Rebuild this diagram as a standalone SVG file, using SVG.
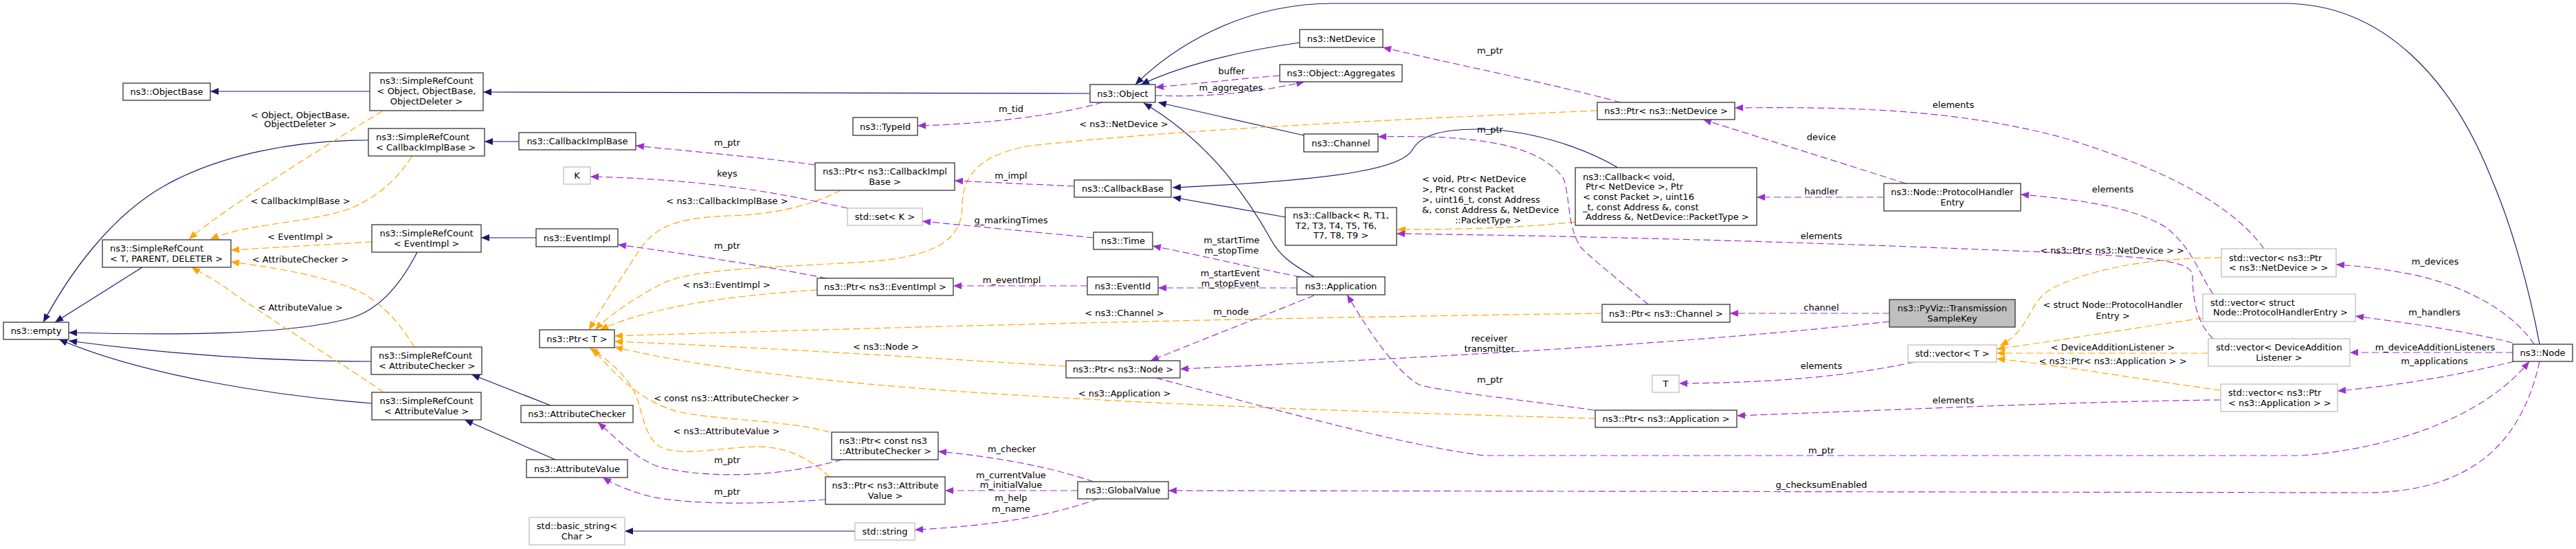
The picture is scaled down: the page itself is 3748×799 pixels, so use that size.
<svg xmlns="http://www.w3.org/2000/svg" width="3748" height="799" viewBox="0 0 3748 799">
<style>
text{font-family:"DejaVu Sans","Liberation Sans",sans-serif;font-size:13px;fill:#000}
.c{text-anchor:middle}
.n{fill:#fff;stroke:#333;stroke-width:1.3}
.g{fill:#fff;stroke:#bfbfbf;stroke-width:1.3}
.r{fill:#bfbfbf;stroke:#333;stroke-width:1.3}
.i{fill:none;stroke:#191970;stroke-width:1.2;marker-end:url(#ai)}
.u{fill:none;stroke:#9a32cd;stroke-width:1.2;stroke-dasharray:10,5;marker-end:url(#au)}
.t{fill:none;stroke:#ffa500;stroke-width:1.2;stroke-dasharray:10,5;marker-end:url(#at)}
</style>
<defs>
<marker id="ai" viewBox="0 0 12 10" refX="12" refY="5" markerWidth="13" markerHeight="10" markerUnits="userSpaceOnUse" orient="auto"><path d="M0,0 L12,5 L0,10 z" fill="#191970"/></marker>
<marker id="au" viewBox="0 0 12 10" refX="12" refY="5" markerWidth="13" markerHeight="10" markerUnits="userSpaceOnUse" orient="auto"><path d="M0,0 L12,5 L0,10 z" fill="#9a32cd"/></marker>
<marker id="at" viewBox="0 0 12 10" refX="12" refY="5" markerWidth="13" markerHeight="10" markerUnits="userSpaceOnUse" orient="auto"><path d="M0,0 L12,5 L0,10 z" fill="#ffa500"/></marker>
</defs>
<rect width="3748" height="799" fill="#fff"/>
<g id="edges">
<path class="i" d="M538,133 L306,133"/>
<path class="i" d="M1586,136 L703,134"/>
<path class="i" d="M536,204 C430,204 320,225 240,270 C160,315 100,400 63,469"/>
<path class="i" d="M207,389 L80,469"/>
<path class="i" d="M607,367 C585,410 555,450 510,463 C420,488 250,488 100,484"/>
<path class="i" d="M540,526 C400,526 250,516 100,496"/>
<path class="i" d="M541,587 C400,576 210,547 86,494"/>
<path class="i" d="M755,206 L705,206"/>
<path class="i" d="M780,346 L700,346"/>
<path class="i" d="M801,590 L686,545"/>
<path class="i" d="M808,669 L676,611"/>
<path class="i" d="M1244,773 L909,773"/>
<path class="i" d="M1891,62 C1800,75 1720,95 1660,123"/>
<path class="i" d="M3695,501 C3680,420 3655,330 3625,260 C3570,120 3470,5 3323,5 L1940,5 C1800,5 1700,75 1652,123"/>
<path class="i" d="M1897,197 L1685,149"/>
<path class="i" d="M1912,403 C1880,385 1862,372 1850,350 C1800,260 1740,195 1664,150"/>
<path class="i" d="M2354,244 C2300,212 2220,188 2150,188 C2090,188 2065,200 2055,218 C2040,245 1950,262 1706,273"/>
<path class="i" d="M1870,316 L1706,287"/>
<path class="t" d="M556,162 C500,196 330,300 275,348"/>
<path class="t" d="M599,228 C575,265 545,290 505,305 C445,325 360,325 306,348"/>
<path class="t" d="M541,352 L336,364"/>
<path class="t" d="M603,505 C575,460 545,430 500,415 C445,396 385,388 336,381"/>
<path class="t" d="M558,571 C500,530 400,470 330,420 C305,402 290,396 279,389"/>
<path class="t" d="M1223,277 C1180,300 1120,313 1060,314 C985,317 955,330 933,360 C910,395 880,440 857,480"/>
<path class="t" d="M1189,422 C1100,428 960,440 873,480"/>
<path class="t" d="M2324,161 C2000,175 1700,190 1500,212 C1420,225 1400,260 1400,300 C1400,350 1360,376 1245,382 C1100,390 1010,392 965,412 C930,430 890,455 866,480"/>
<path class="t" d="M2331,456 C1900,462 1500,470 894,489"/>
<path class="t" d="M1551,533 C1300,518 1100,505 894,497"/>
<path class="t" d="M2321,609 C2000,600 1700,590 1400,570 C1150,552 1000,530 894,505"/>
<path class="t" d="M1207,629 C1150,612 1050,612 990,600 C930,585 890,540 862,507"/>
<path class="t" d="M1207,694 C1180,670 1150,650 1100,650 C1040,652 990,665 960,650 C935,635 935,590 920,565 C905,540 880,520 858,507"/>
<path class="t" d="M2292,323 C2200,333 2100,334 2033,334"/>
<path class="t" d="M3232,375 C3100,376 3030,398 2985,420 C2950,440 2955,480 2910,503"/>
<path class="t" d="M3205,463 C3100,478 3000,495 2905,508"/>
<path class="t" d="M3213,514 L2905,514"/>
<path class="t" d="M3231,568 C3100,550 3000,532 2905,522"/>
<path class="u" d="M1186,240 C1100,228 1000,220 925,212"/>
<path class="u" d="M1233,303 C1150,285 1050,262 859,257"/>
<path class="u" d="M1563,271 L1389,263"/>
<path class="u" d="M1591,346 L1342,322"/>
<path class="u" d="M1203,405 C1100,385 1000,370 899,356"/>
<path class="u" d="M1582,416 L1387,416"/>
<path class="u" d="M1892,403 C1800,385 1740,370 1677,358"/>
<path class="u" d="M1887,419 L1685,419"/>
<path class="u" d="M1912,430 C1850,455 1760,490 1674,525"/>
<path class="u" d="M1682,550 C1850,595 2050,650 2160,663 L3350,663 C3500,650 3620,600 3680,526"/>
<path class="u" d="M3695,526 C3670,640 3600,717 3440,717 L1700,714"/>
<path class="u" d="M1591,701 C1530,680 1450,665 1365,657"/>
<path class="u" d="M1568,714 L1375,714"/>
<path class="u" d="M1598,726 C1530,750 1450,765 1331,771"/>
<path class="u" d="M1225,669 C1150,690 1050,700 960,680 C920,665 900,640 870,615"/>
<path class="u" d="M1201,727 C1100,735 980,735 930,718 C905,710 890,703 877,695"/>
<path class="u" d="M2358,149 C2250,120 2100,90 2012,69"/>
<path class="u" d="M2398,443 C2370,420 2320,380 2300,360 C2280,330 2285,290 2275,260 C2240,210 2150,196 2005,199"/>
<path class="u" d="M2749,456 L2517,456"/>
<path class="u" d="M2749,468 C2500,495 2200,515 1717,537"/>
<path class="u" d="M2773,267 L2478,174"/>
<path class="u" d="M2741,287 L2556,287"/>
<path class="u" d="M3294,362 C3250,300 3150,245 3000,200 C2850,160 2700,155 2524,157"/>
<path class="u" d="M3220,428 C3200,400 3190,360 3150,330 C3100,300 3020,290 2940,283"/>
<path class="u" d="M2785,527 C2700,545 2600,557 2443,558"/>
<path class="u" d="M3231,582 C3000,585 2800,595 2527,605"/>
<path class="u" d="M3220,493 C3195,470 3190,430 3190,400 C3187,382 3150,375 3000,368 C2700,355 2400,345 2032,340"/>
<path class="u" d="M3687,501 C3660,460 3600,420 3513,400 C3460,390 3430,387 3399,385"/>
<path class="u" d="M3656,499 C3580,480 3500,470 3427,460"/>
<path class="u" d="M3656,513 L3419,513"/>
<path class="u" d="M3658,526 C3580,545 3500,560 3401,569"/>
<path class="u" d="M1604,149 C1550,165 1450,180 1335,183"/>
<path class="u" d="M2320,597 C2200,580 2100,570 2065,560 C2030,540 1990,480 1960,429"/>
<path class="u" d="M1862,110 C1800,115 1740,122 1681,127"/>
<path class="u" d="M1681,139 C1750,142 1830,135 1898,119"/>
</g>
<g id="edge-labels">
<text class="c" x="437" y="171.5">&lt; Object, ObjectBase,</text>
<text class="c" x="437" y="184.5">ObjectDeleter &gt;</text>
<text class="c" x="437" y="296.5">&lt; CallbackImplBase &gt;</text>
<text class="c" x="437" y="348.5">&lt; EventImpl &gt;</text>
<text class="c" x="437" y="381.5">&lt; AttributeChecker &gt;</text>
<text class="c" x="437" y="451.5">&lt; AttributeValue &gt;</text>
<text class="c" x="1058" y="211.5">m_ptr</text>
<text class="c" x="1058" y="256.5">keys</text>
<text class="c" x="1058" y="296.5">&lt; ns3::CallbackImplBase &gt;</text>
<text class="c" x="1058" y="361.5">m_ptr</text>
<text class="c" x="1057" y="418.5">&lt; ns3::EventImpl &gt;</text>
<text class="c" x="1057" y="583.5">&lt; const ns3::AttributeChecker &gt;</text>
<text class="c" x="1057" y="631.5">&lt; ns3::AttributeValue &gt;</text>
<text class="c" x="1058" y="673.5">m_ptr</text>
<text class="c" x="1058" y="719.5">m_ptr</text>
<text class="c" x="1792" y="107.5">buffer</text>
<text class="c" x="1791" y="131.5">m_aggregates</text>
<text class="c" x="1471" y="162.5">m_tid</text>
<text class="c" x="1635" y="184.5">&lt; ns3::NetDevice &gt;</text>
<text class="c" x="1471" y="259.5">m_impl</text>
<text class="c" x="1471" y="324.5">g_markingTimes</text>
<text class="c" x="1792" y="353.5">m_startTime</text>
<text class="c" x="1792" y="368.5">m_stopTime</text>
<text class="c" x="1790" y="401.5">m_startEvent</text>
<text class="c" x="1790" y="417">m_stopEvent</text>
<text class="c" x="1472" y="411.5">m_eventImpl</text>
<text class="c" x="1636" y="459.5">&lt; ns3::Channel &gt;</text>
<text class="c" x="1791" y="457.5">m_node</text>
<text class="c" x="1289" y="508.5">&lt; ns3::Node &gt;</text>
<text class="c" x="1636" y="576.5">&lt; ns3::Application &gt;</text>
<text class="c" x="1472" y="657.5">m_checker</text>
<text class="c" x="1471" y="695.5">m_currentValue</text>
<text class="c" x="1471" y="709.5">m_initialValue</text>
<text class="c" x="1471" y="728.5">m_help</text>
<text class="c" x="1471" y="744.5">m_name</text>
<text class="c" x="2168" y="77.5">m_ptr</text>
<text class="c" x="2168" y="192.5">m_ptr</text>
<text x="2069" y="264.5">&lt; void, Ptr&lt; NetDevice</text>
<text x="2069" y="279.5">&gt;, Ptr&lt; const Packet</text>
<text x="2069" y="294.5">&gt;, uint16_t, const Address</text>
<text x="2069" y="309.5">&amp;, const Address &amp;, NetDevice</text>
<text class="c" x="2165" y="324.5">::PacketType &gt;</text>
<text class="c" x="2167" y="496.5">receiver</text>
<text class="c" x="2167" y="511.5">transmitter</text>
<text class="c" x="2168" y="556.5">m_ptr</text>
<text class="c" x="2842" y="156.5">elements</text>
<text class="c" x="2650" y="203.5">device</text>
<text class="c" x="2650" y="282.5">handler</text>
<text class="c" x="3074" y="279.5">elements</text>
<text class="c" x="2650" y="347.5">elements</text>
<text class="c" x="3073" y="368.5">&lt; ns3::Ptr&lt; ns3::NetDevice &gt; &gt;</text>
<text class="c" x="2650" y="451.5">channel</text>
<text class="c" x="2650" y="536.5">elements</text>
<text class="c" x="2842" y="586.5">elements</text>
<text class="c" x="2650" y="659.5">m_ptr</text>
<text class="c" x="2650" y="709.5">g_checksumEnabled</text>
<text class="c" x="3074" y="447.5">&lt; struct Node::ProtocolHandler</text>
<text class="c" x="3074" y="463.5">Entry &gt;</text>
<text class="c" x="3074" y="509.5">&lt; DeviceAdditionListener &gt;</text>
<text class="c" x="3074" y="529.5">&lt; ns3::Ptr&lt; ns3::Application &gt; &gt;</text>
<text class="c" x="3543" y="384.5">m_devices</text>
<text class="c" x="3542" y="458.5">m_handlers</text>
<text class="c" x="3543" y="509.5">m_deviceAdditionListeners</text>
<text class="c" x="3542" y="529.5">m_applications</text>
</g>
<g id="n-objectbase"><rect class="n" x="179" y="121" width="127" height="25"/><text class="c" x="242.5" y="138">ns3::ObjectBase</text></g>
<g id="n-src-object"><rect class="n" x="538" y="106" width="165" height="55"/><text class="c" x="620.5" y="121.5">ns3::SimpleRefCount</text><text class="c" x="620.5" y="136.5">&lt; Object, ObjectBase,</text><text class="c" x="620.5" y="151.5">ObjectDeleter &gt;</text></g>
<g id="n-src-cib"><rect class="n" x="536" y="187" width="169" height="40"/><text x="547" y="204">ns3::SimpleRefCount</text><text x="547" y="219">&lt; CallbackImplBase &gt;</text></g>
<g id="n-src-t"><rect class="n" x="149" y="349" width="187" height="40"/><text x="160" y="366">ns3::SimpleRefCount</text><text x="160" y="381">&lt; T, PARENT, DELETER &gt;</text></g>
<g id="n-src-eventimpl"><rect class="n" x="541" y="327" width="159" height="40"/><text class="c" x="620.5" y="344">ns3::SimpleRefCount</text><text class="c" x="620.5" y="359">&lt; EventImpl &gt;</text></g>
<g id="n-empty"><rect class="n" x="5" y="469" width="95" height="25"/><text class="c" x="52.5" y="486">ns3::empty</text></g>
<g id="n-src-ac"><rect class="n" x="540" y="505" width="161" height="40"/><text x="551" y="522">ns3::SimpleRefCount</text><text x="551" y="537">&lt; AttributeChecker &gt;</text></g>
<g id="n-src-av"><rect class="n" x="541" y="571" width="159" height="40"/><text class="c" x="620.5" y="588">ns3::SimpleRefCount</text><text class="c" x="620.5" y="603">&lt; AttributeValue &gt;</text></g>
<g id="n-callbackimplbase"><rect class="n" x="755" y="193" width="170" height="25"/><text class="c" x="840" y="210">ns3::CallbackImplBase</text></g>
<g id="n-k"><rect class="g" x="820" y="243" width="39" height="25"/><text class="c" x="839.5" y="260">K</text></g>
<g id="n-eventimpl"><rect class="n" x="780" y="333" width="119" height="26"/><text class="c" x="839.5" y="350.5">ns3::EventImpl</text></g>
<g id="n-ptr-cib"><rect class="n" x="1186" y="237" width="203" height="40"/><text class="c" x="1287.5" y="254">ns3::Ptr&lt; ns3::CallbackImpl</text><text class="c" x="1287.5" y="269">Base &gt;</text></g>
<g id="n-set-k"><rect class="g" x="1233" y="303" width="109" height="25"/><text class="c" x="1287.5" y="320">std::set&lt; K &gt;</text></g>
<g id="n-typeid"><rect class="n" x="1241" y="171" width="94" height="26"/><text class="c" x="1288" y="188.5">ns3::TypeId</text></g>
<g id="n-ptr-t"><rect class="n" x="785" y="480" width="109" height="26"/><text class="c" x="839.5" y="497.5">ns3::Ptr&lt; T &gt;</text></g>
<g id="n-attributechecker"><rect class="n" x="758" y="590" width="163" height="25"/><text class="c" x="839.5" y="607">ns3::AttributeChecker</text></g>
<g id="n-attributevalue"><rect class="n" x="766" y="669" width="147" height="26"/><text class="c" x="839.5" y="686.5">ns3::AttributeValue</text></g>
<g id="n-basic-string"><rect class="g" x="770" y="753" width="139" height="40"/><text class="c" x="839.5" y="770">std::basic_string&lt;</text><text class="c" x="839.5" y="785">Char &gt;</text></g>
<g id="n-ptr-eventimpl"><rect class="n" x="1189" y="405" width="198" height="25"/><text class="c" x="1288" y="422">ns3::Ptr&lt; ns3::EventImpl &gt;</text></g>
<g id="n-ptr-cac"><rect class="n" x="1210" y="629" width="155" height="40"/><text x="1221" y="646">ns3::Ptr&lt; const ns3</text><text x="1221" y="661">::AttributeChecker &gt;</text></g>
<g id="n-ptr-av"><rect class="n" x="1201" y="694" width="174" height="40"/><text class="c" x="1288" y="711">ns3::Ptr&lt; ns3::Attribute</text><text class="c" x="1288" y="726">Value &gt;</text></g>
<g id="n-string"><rect class="g" x="1244" y="761" width="87" height="25"/><text class="c" x="1287.5" y="778">std::string</text></g>
<g id="n-object"><rect class="n" x="1586" y="123" width="95" height="26"/><text class="c" x="1633.5" y="140.5">ns3::Object</text></g>
<g id="n-callbackbase"><rect class="n" x="1563" y="262" width="141" height="25"/><text class="c" x="1633.5" y="279">ns3::CallbackBase</text></g>
<g id="n-time"><rect class="n" x="1591" y="338" width="86" height="25"/><text class="c" x="1634" y="355">ns3::Time</text></g>
<g id="n-eventid"><rect class="n" x="1582" y="403" width="103" height="26"/><text class="c" x="1633.5" y="420.5">ns3::EventId</text></g>
<g id="n-ptr-node"><rect class="n" x="1551" y="525" width="166" height="25"/><text class="c" x="1634" y="542">ns3::Ptr&lt; ns3::Node &gt;</text></g>
<g id="n-globalvalue"><rect class="n" x="1568" y="701" width="132" height="25"/><text class="c" x="1634" y="718">ns3::GlobalValue</text></g>
<g id="n-netdevice"><rect class="n" x="1891" y="43" width="121" height="26"/><text class="c" x="1951.5" y="60.5">ns3::NetDevice</text></g>
<g id="n-aggregates"><rect class="n" x="1862" y="94" width="178" height="25"/><text class="c" x="1951" y="111">ns3::Object::Aggregates</text></g>
<g id="n-ptr-netdevice"><rect class="n" x="2324" y="149" width="200" height="25"/><text class="c" x="2424" y="166">ns3::Ptr&lt; ns3::NetDevice &gt;</text></g>
<g id="n-channel"><rect class="n" x="1897" y="195" width="108" height="26"/><text class="c" x="1951" y="212.5">ns3::Channel</text></g>
<g id="n-callback-r"><rect class="n" x="1870" y="302" width="162" height="55"/><text x="1881" y="317.5">ns3::Callback&lt; R, T1,</text><text x="1885" y="332.5">T2, T3, T4, T5, T6,</text><text class="c" x="1951" y="347">T7, T8, T9 &gt;</text></g>
<g id="n-callback-void"><rect class="n" x="2292" y="244" width="264" height="84"/><text x="2303" y="261.5">ns3::Callback&lt; void,</text><text x="2307" y="275.5">Ptr&lt; NetDevice &gt;, Ptr</text><text x="2303" y="290.5">&lt; const Packet &gt;, uint16</text><text x="2303" y="305.5">_t, const Address &amp;, const</text><text x="2307" y="319.5">Address &amp;, NetDevice::PacketType &gt;</text></g>
<g id="n-application"><rect class="n" x="1887" y="403" width="128" height="26"/><text class="c" x="1951" y="420.5">ns3::Application</text></g>
<g id="n-ptr-channel"><rect class="n" x="2331" y="443" width="186" height="26"/><text class="c" x="2424" y="460.5">ns3::Ptr&lt; ns3::Channel &gt;</text></g>
<g id="n-t"><rect class="g" x="2404" y="546" width="39" height="25"/><text class="c" x="2423.5" y="563">T</text></g>
<g id="n-ptr-application"><rect class="n" x="2321" y="597" width="206" height="25"/><text class="c" x="2424" y="614">ns3::Ptr&lt; ns3::Application &gt;</text></g>
<g id="n-protocolhandlerentry"><rect class="n" x="2741" y="267" width="199" height="40"/><text class="c" x="2840.5" y="284">ns3::Node::ProtocolHandler</text><text class="c" x="2840.5" y="299">Entry</text></g>
<g id="n-pyviz"><rect class="r" x="2749" y="436" width="183" height="40"/><text class="c" x="2840.5" y="453">ns3::PyViz::Transmission</text><text class="c" x="2840.5" y="468">SampleKey</text></g>
<g id="n-vector-t"><rect class="g" x="2776" y="502" width="129" height="25"/><text class="c" x="2840.5" y="519">std::vector&lt; T &gt;</text></g>
<g id="n-vec-ptr-netdevice"><rect class="g" x="3232" y="362" width="167" height="41"/><text x="3243" y="379.5">std::vector&lt; ns3::Ptr</text><text x="3243" y="394">&lt; ns3::NetDevice &gt; &gt;</text></g>
<g id="n-vec-phe"><rect class="g" x="3205" y="428" width="222" height="40"/><text x="3216" y="444.5">std::vector&lt; struct</text><text x="3220" y="459">Node::ProtocolHandlerEntry &gt;</text></g>
<g id="n-vec-dal"><rect class="g" x="3213" y="493" width="206" height="40"/><text class="c" x="3316" y="510">std::vector&lt; DeviceAddition</text><text class="c" x="3316" y="525">Listener &gt;</text></g>
<g id="n-vec-ptr-application"><rect class="g" x="3231" y="559" width="170" height="40"/><text x="3242" y="576">std::vector&lt; ns3::Ptr</text><text x="3242" y="591">&lt; ns3::Application &gt; &gt;</text></g>
<g id="n-node"><rect class="n" x="3656" y="501" width="87" height="25"/><text class="c" x="3699.5" y="518">ns3::Node</text></g>
</svg>
